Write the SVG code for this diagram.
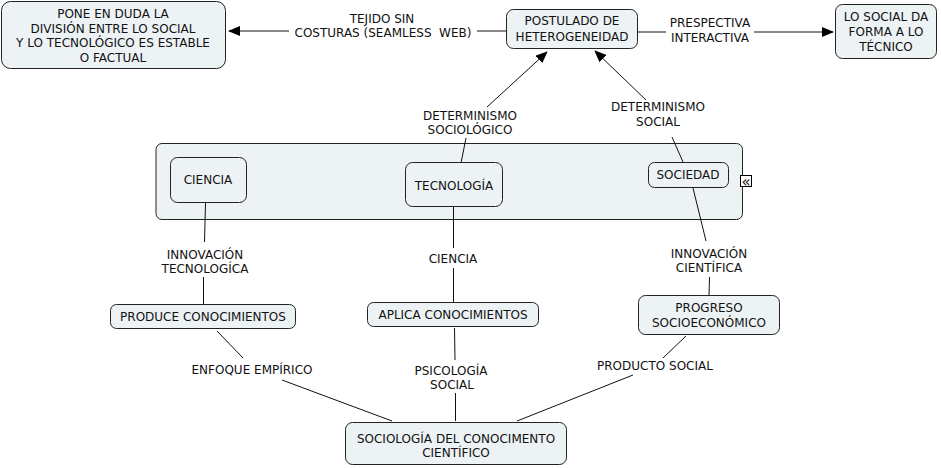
<svg xmlns="http://www.w3.org/2000/svg" width="941" height="468" viewBox="0 0 941 468">
<style>
.box{fill:#edf3f5;stroke:#222;stroke-width:1}
.cont{fill:#edf3f5;stroke:#222;stroke-width:1}
text{font-family:"DejaVu Sans",Verdana,sans-serif;font-size:12px;fill:#111;text-anchor:middle}
.ln{stroke:#111;stroke-width:1;fill:none}
</style>
<defs>
<marker id="arr" markerWidth="12" markerHeight="10" refX="11" refY="5" orient="auto" markerUnits="userSpaceOnUse">
<path d="M0,0 L12,5 L0,10 Z" fill="#000"/>
</marker>
</defs>
<rect width="941" height="468" fill="#fff"/>

<g id="container">
<rect class="cont" x="156" y="143.5" width="586.5" height="76" rx="6"/>
<rect x="740.5" y="175.5" width="11" height="11" fill="#fff" stroke="#000" stroke-width="1"/>
<text x="746" y="186.5" style="font-size:15px">«</text>
</g>

<g id="connectors">
<line class="ln" x1="506" y1="31" x2="477" y2="31"/>
<line class="ln" x1="289" y1="31" x2="229" y2="31" marker-end="url(#arr)"/>
<line class="ln" x1="638" y1="32" x2="666" y2="32"/>
<line class="ln" x1="754" y1="32" x2="833" y2="32" marker-end="url(#arr)"/>
<line class="ln" x1="461" y1="163" x2="466" y2="138"/>
<line class="ln" x1="487" y1="107" x2="547" y2="52" marker-end="url(#arr)"/>
<line class="ln" x1="683" y1="162" x2="672" y2="137"/>
<line class="ln" x1="646" y1="100" x2="595" y2="51" marker-end="url(#arr)"/>
<line class="ln" x1="205.5" y1="203" x2="204.5" y2="242"/>
<line class="ln" x1="203.5" y1="277" x2="203.5" y2="304"/>
<line class="ln" x1="453.5" y1="207" x2="453.5" y2="248"/>
<line class="ln" x1="453.5" y1="268" x2="453.5" y2="302"/>
<line class="ln" x1="693" y1="188" x2="706" y2="241"/>
<line class="ln" x1="709.5" y1="277" x2="709" y2="295"/>
<line class="ln" x1="217" y1="331" x2="243" y2="358"/>
<line class="ln" x1="282" y1="380" x2="392" y2="421"/>
<line class="ln" x1="454.5" y1="328" x2="455" y2="360"/>
<line class="ln" x1="455.5" y1="393" x2="455.5" y2="421"/>
<line class="ln" x1="686" y1="336" x2="663" y2="358"/>
<line class="ln" x1="633" y1="375" x2="517" y2="421"/>
</g>

<g id="labels">
<text x="382" y="23">TEJIDO SIN</text>
<text x="383" y="37" xml:space="preserve">COSTURAS (SEAMLESS  WEB)</text>
<text x="710" y="27">PRESPECTIVA</text>
<text x="710" y="42">INTERACTIVA</text>
<text x="470" y="120">DETERMINISMO</text>
<text x="470" y="134">SOCIOLÓGICO</text>
<text x="658" y="111">DETERMINISMO</text>
<text x="658" y="126">SOCIAL</text>
<text x="205" y="259">INNOVACIÓN</text>
<text x="205" y="273">TECNOLOGÍCA</text>
<text x="453" y="263">CIENCIA</text>
<text x="709" y="258">INNOVACIÓN</text>
<text x="709" y="272">CIENTÍFICA</text>
<text x="252" y="374">ENFOQUE EMPÍRICO</text>
<text x="451" y="375">PSICOLOGÍA</text>
<text x="452" y="389">SOCIAL</text>
<text x="655" y="370">PRODUCTO SOCIAL</text>
</g>

<g id="n-pone">
<rect class="box" x="1.5" y="1.5" width="224" height="67" rx="9"/>
<text x="113" y="18">PONE EN DUDA LA</text>
<text x="113" y="33">DIVISIÓN ENTRE LO SOCIAL</text>
<text x="113" y="47">Y LO TECNOLÓGICO ES ESTABLE</text>
<text x="113" y="62">O FACTUAL</text>
</g>
<g id="n-postulado">
<rect class="box" x="506.5" y="9.5" width="131" height="39" rx="7"/>
<text x="572" y="25">POSTULADO DE</text>
<text x="572" y="41">HETEROGENEIDAD</text>
</g>
<g id="n-losocial">
<rect class="box" x="835.5" y="4.5" width="101" height="54" rx="7"/>
<text x="886" y="21">LO SOCIAL DA</text>
<text x="886" y="36">FORMA A LO</text>
<text x="886" y="51">TÉCNICO</text>
</g>
<g id="n-ciencia">
<rect class="box" x="170.5" y="157.5" width="76" height="45" rx="7"/>
<text x="208" y="184">CIENCIA</text>
</g>
<g id="n-tecnologia">
<rect class="box" x="405.5" y="162.5" width="97" height="44" rx="7"/>
<text x="454" y="190">TECNOLOGÍA</text>
</g>
<g id="n-sociedad">
<rect class="box" x="648.5" y="162.5" width="80" height="25" rx="6"/>
<text x="688" y="179">SOCIEDAD</text>
</g>
<g id="n-produce">
<rect class="box" x="110.5" y="304.5" width="185" height="24" rx="6"/>
<text x="203" y="321">PRODUCE CONOCIMIENTOS</text>
</g>
<g id="n-aplica">
<rect class="box" x="367.5" y="302.5" width="171" height="24" rx="6"/>
<text x="453" y="319">APLICA CONOCIMIENTOS</text>
</g>
<g id="n-progreso">
<rect class="box" x="638.5" y="295.5" width="141" height="39" rx="7"/>
<text x="709" y="312">PROGRESO</text>
<text x="709" y="327">SOCIOECONÓMICO</text>
</g>
<g id="n-sociologia">
<rect class="box" x="345.5" y="422.5" width="221" height="42" rx="7"/>
<text x="456" y="443">SOCIOLOGÍA DEL CONOCIMENTO</text>
<text x="456" y="457">CIENTÍFICO</text>
</g>
</svg>
